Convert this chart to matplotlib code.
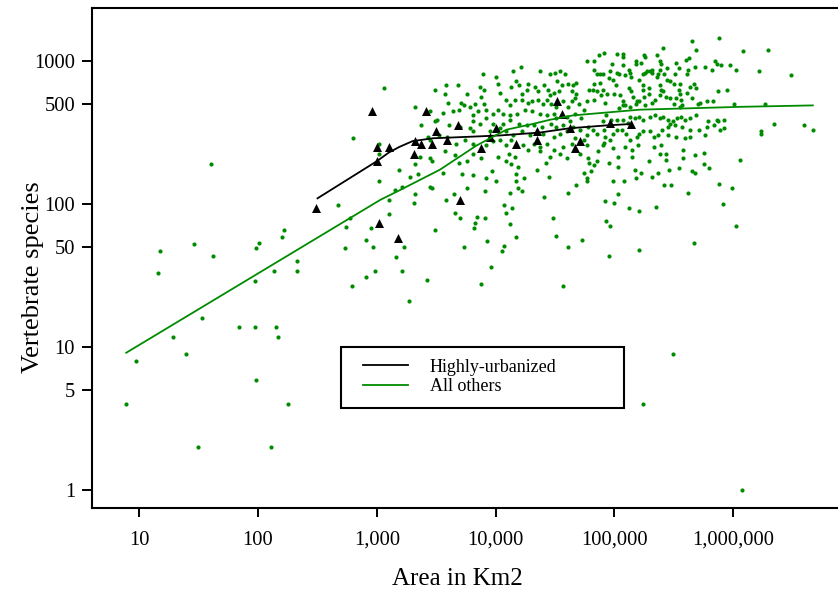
import numpy as np
import matplotlib
matplotlib.use('Agg')
import matplotlib.pyplot as plt
from matplotlib.lines import Line2D
from matplotlib.patches import Rectangle
from matplotlib.ticker import NullLocator

# values, stored as log10(area km2) / log10(species)
others_log_area = [
    1.60, 1.17, 1.16, 1.46, 1.62, 1.53, 1.28, 1.39, 0.97, 0.89,
    1.49, 2.11, 1.98, 2.25, 1.84, 1.97, 2.15, 2.17, 1.97, 2.13,
    2.33, 2.33, 1.98, 2.01, 2.20, 2.22, 2.67, 2.77, 2.74, 2.73,
    2.91, 2.95, 2.97, 2.79, 2.91, 2.98, 3.02, 3.02,
    3.06, 3.49, 2.80, 3.32, 3.45, 3.37, 3.49, 3.51, 3.43, 3.45,
    3.52, 3.02, 3.46, 3.45, 3.36, 3.32, 3.19, 3.28, 3.35, 3.21,
    3.15, 3.32, 3.45, 3.10,
    3.10, 3.31, 3.23, 3.16, 3.21, 3.27, 3.42, 3.88, 4.57, 4.93,
    4.96, 4.95, 4.92, 5.00, 5.12, 5.21, 5.35, 5.21, 5.67, 5.91,
    6.02, 5.49, 5.24, 6.07,
    3.56, 3.72, 3.81, 3.69, 3.76, 3.97, 3.92, 4.00, 3.46, 3.76,
    3.65, 3.58, 3.91, 4.09, 4.13, 4.19, 4.17, 4.24, 4.17, 4.19,
    4.22, 4.12, 4.07, 4.14, 4.09, 3.66, 3.70, 3.84, 3.83, 3.91,
    3.82, 3.49, 4.12, 4.17, 3.93, 4.07, 4.05, 3.73, 3.96, 4.35,
    4.42, 4.45, 4.41, 4.48, 4.51, 4.61, 4.73, 4.61, 4.68, 4.74,
    4.77, 4.77, 4.79,
    3.89, 4.00, 4.15, 4.21, 4.37, 4.46, 4.50, 4.54, 4.58, 3.58,
    3.68, 3.76, 3.87, 3.90, 3.88, 3.83, 3.71, 3.73, 3.78, 3.90,
    4.02, 4.04, 4.13, 4.17, 4.20, 4.27, 4.26, 4.22, 4.33, 4.36,
    4.41, 4.44, 4.46, 4.49, 4.53, 4.52, 4.56, 4.61, 4.65, 4.68,
    4.64, 4.68, 4.77, 4.79, 4.77, 4.74, 4.09, 4.12, 4.16, 4.22,
    4.27, 4.31, 4.36, 4.40, 4.43, 4.47, 4.51, 4.57, 4.61, 4.64,
    4.67, 4.70, 3.57, 3.60, 3.56, 3.64, 3.69, 3.81, 3.85, 3.92,
    3.98, 4.02, 4.06, 4.12, 4.18, 4.25, 4.31, 4.37, 4.43, 4.49,
    4.51, 4.60, 4.67, 4.72, 4.78, 3.81, 3.87, 3.92, 3.98, 4.06,
    4.12, 4.20, 4.26, 4.32, 4.39, 4.47, 4.51, 4.57, 4.63, 4.65,
    4.71, 4.77, 3.61, 3.70, 3.78, 3.81, 3.95, 4.04, 4.09, 4.15,
    4.22, 4.29, 4.40, 4.49, 4.54, 4.60, 4.67, 4.74, 3.59, 3.67,
    3.74, 3.81, 3.92, 3.98, 4.04, 4.09, 4.13, 4.23, 4.32, 4.37,
    4.43, 4.49, 4.57, 4.64, 4.77, 3.57, 3.66, 3.81, 3.88, 4.02,
    4.11, 4.16, 4.27, 4.37, 4.46, 4.54, 4.60, 4.71, 4.78,
    5.88, 5.65, 5.41, 5.69, 6.08, 4.91, 4.87, 5.02, 5.07, 5.07,
    5.25, 5.26, 5.36, 5.63, 4.83, 4.83, 4.98, 5.07, 5.18, 5.18,
    5.22, 5.38, 5.39, 5.52, 5.60, 5.85, 5.86, 5.90, 5.97, 6.02,
    5.82, 5.76, 5.68, 5.61, 5.62, 5.54, 5.51, 5.44, 5.42, 5.38,
    5.37, 5.36, 5.30, 5.32, 5.32, 5.26, 5.27, 5.24, 5.13, 5.14,
    5.09, 5.12, 5.02, 5.04, 4.96, 4.95, 4.90, 4.88, 4.85, 4.88,
    4.83, 4.82, 4.85, 4.90, 4.94, 4.89, 4.92, 4.83, 4.99, 5.01,
    5.00, 5.05, 5.07, 5.07, 5.04, 5.12, 5.14, 5.16, 5.19, 5.18,
    5.09, 5.13, 5.21, 5.24, 5.24, 5.29, 5.29, 5.25, 5.21, 5.26,
    5.32, 5.34, 5.38, 5.39, 5.41, 5.43, 5.47, 5.44, 5.47, 5.38,
    5.50, 5.55, 5.54, 5.55, 5.52, 5.56, 5.57, 5.55, 5.50, 5.61,
    5.64, 5.67, 5.69, 5.65, 5.70, 5.72, 5.78, 5.83, 5.87, 5.95,
    6.01,
    4.90, 4.93, 4.97, 5.02, 5.07, 5.11, 5.13, 5.17, 5.21, 5.24,
    5.30, 5.34, 5.38, 5.41, 5.45, 5.47, 5.49, 5.53, 5.56, 5.59,
    5.64, 5.69, 5.79, 5.86, 5.87, 5.92, 5.84, 5.78, 5.89, 5.92,
    5.76, 5.64, 5.57, 5.51, 5.45, 5.40, 5.37, 5.33, 5.30, 5.24,
    5.21, 5.19, 5.13, 5.10, 5.06, 5.02, 4.99, 4.96, 4.92, 4.91,
    4.85, 4.82, 5.64, 5.71, 5.59, 5.52, 5.45,
    5.03, 4.99, 5.08, 5.18, 5.22, 5.17, 5.32, 5.37, 5.42, 5.48,
    5.46, 5.54, 5.62, 5.65, 5.68, 5.75, 5.80, 5.88, 5.99, 6.06,
    5.03, 4.95, 4.99, 5.03, 4.91, 4.83, 4.85, 4.80, 4.86, 4.90,
    5.15, 5.15, 5.09, 5.20, 5.29, 5.33, 5.39, 5.38, 5.43, 5.43,
    5.58, 5.58, 5.68, 5.75,
    6.29, 6.49, 6.22, 6.27, 6.34, 6.23, 6.23, 6.60, 6.67,
]
others_log_species = [
    2.28, 1.67, 1.52, 1.72, 1.64, 1.20, 1.07, 0.95, 0.90, 0.60,
    0.30, 0.30, 0.77, 0.60, 1.14, 1.14, 1.14, 1.07, 1.46, 1.53,
    1.53, 1.60, 1.69, 1.73, 1.77, 1.82, 1.99, 1.90, 1.84, 1.69,
    1.75, 1.83, 1.70, 1.43, 1.49, 1.53, 2.16, 2.35,
    2.81, 2.80, 2.46, 2.68, 2.65, 2.55, 2.58, 2.59, 2.47, 2.45,
    2.48, 2.42, 2.30, 2.32, 2.33, 2.28, 2.24, 2.19, 2.21, 2.12,
    2.10, 2.07, 2.12, 2.03,
    1.93, 2.01, 1.70, 1.63, 1.53, 1.32, 1.47, 1.44, 1.43, 1.88,
    1.85, 1.64, 2.02, 2.01, 1.97, 1.95, 1.98, 1.68, 1.73, 2.00,
    1.85, 0.95, 0.60, 0.00,
    2.22, 2.21, 2.20, 2.29, 2.30, 2.23, 2.18, 2.16, 2.11, 2.11,
    2.07, 2.03, 2.09, 2.30, 2.28, 2.26, 2.21, 2.18, 2.16, 2.11,
    2.09, 2.08, 1.99, 1.97, 1.94, 1.94, 1.90, 1.91, 1.87, 1.90,
    1.83, 1.82, 1.86, 1.77, 1.74, 1.71, 1.67, 1.70, 1.56, 2.24,
    2.29, 2.19, 2.05, 1.90, 1.78, 1.70, 1.75, 2.08, 2.13, 2.22,
    2.18, 2.16, 2.29,
    2.91, 2.89, 2.93, 2.96, 2.93, 2.91, 2.92, 2.93, 2.91, 2.83,
    2.83, 2.77, 2.82, 2.80, 2.75, 2.70, 2.71, 2.69, 2.68, 2.70,
    2.84, 2.78, 2.82, 2.86, 2.83, 2.84, 2.80, 2.77, 2.82, 2.79,
    2.83, 2.80, 2.76, 2.78, 2.79, 2.86, 2.83, 2.84, 2.83, 2.85,
    2.79, 2.77, 3.00, 2.80, 2.72, 2.66, 2.73, 2.69, 2.73, 2.73,
    2.71, 2.72, 2.73, 2.70, 2.73, 2.70, 2.68, 2.72, 2.68, 2.72,
    2.74, 2.70, 2.77, 2.71, 2.64, 2.65, 2.66, 2.62, 2.65, 2.66,
    2.63, 2.66, 2.63, 2.62, 2.63, 2.66, 2.65, 2.63, 2.62, 2.63,
    2.60, 2.61, 2.63, 2.60, 2.54, 2.58, 2.56, 2.60, 2.56, 2.56,
    2.59, 2.56, 2.55, 2.55, 2.54, 2.56, 2.54, 2.55, 2.58, 2.54,
    2.52, 2.48, 2.55, 2.54, 2.53, 2.51, 2.51, 2.53, 2.51, 2.48,
    2.51, 2.48, 2.49, 2.47, 2.49, 2.51, 2.46, 2.45, 2.47, 2.42,
    2.45, 2.42, 2.41, 2.44, 2.45, 2.41, 2.45, 2.41, 2.42, 2.40,
    2.42, 2.38, 2.40, 2.42, 2.41, 2.37, 2.34, 2.35, 2.32, 2.33,
    2.35, 2.33, 2.38, 2.37, 2.33, 2.35, 2.32, 2.35, 2.32,
    3.16, 3.14, 3.09, 3.08, 3.07, 3.06, 3.04, 3.05, 3.05, 3.03,
    3.04, 3.03, 3.04, 3.02, 3.00, 2.94, 2.98, 2.97, 3.00, 2.98,
    2.99, 3.00, 2.98, 2.99, 3.01, 3.00, 2.98, 2.97, 2.97, 2.94,
    2.94, 2.96, 2.96, 2.91, 2.94, 2.95, 2.91, 2.95, 2.91, 2.94,
    2.91, 2.89, 2.93, 2.92, 2.94, 2.92, 2.93, 2.91, 2.92, 2.89,
    2.90, 2.94, 2.92, 2.91, 2.93, 2.88, 2.91, 2.91, 2.91, 2.85,
    2.84, 2.80, 2.79, 2.80, 2.77, 2.76, 2.71, 2.73, 2.87, 2.83,
    2.77, 2.76, 2.72, 2.69, 2.67, 2.81, 2.79, 2.75, 2.72, 2.70,
    2.69, 2.68, 2.87, 2.83, 2.80, 2.81, 2.77, 2.75, 2.72, 2.69,
    2.71, 2.73, 2.76, 2.80, 2.79, 2.75, 2.74, 2.87, 2.86, 2.83,
    2.84, 2.84, 2.80, 2.77, 2.74, 2.73, 2.69, 2.68, 2.70, 2.78,
    2.82, 2.84, 2.81, 2.74, 2.70, 2.71, 2.72, 2.72, 2.79, 2.80,
    2.70,
    2.58, 2.62, 2.59, 2.59, 2.59, 2.57, 2.61, 2.60, 2.61, 2.59,
    2.61, 2.62, 2.60, 2.61, 2.59, 2.56, 2.58, 2.60, 2.61, 2.59,
    2.60, 2.62, 2.58, 2.59, 2.58, 2.59, 2.55, 2.54, 2.52, 2.53,
    2.48, 2.52, 2.54, 2.55, 2.54, 2.52, 2.48, 2.47, 2.51, 2.51,
    2.49, 2.47, 2.45, 2.49, 2.52, 2.52, 2.49, 2.45, 2.47, 2.52,
    2.49, 2.52, 2.47, 2.52, 2.46, 2.47, 2.48,
    2.07, 2.16, 2.16, 2.18, 2.22, 2.24, 2.19, 2.22, 2.13, 2.13,
    2.24, 2.25, 2.08, 2.23, 2.22, 2.28, 2.25, 2.14, 2.11, 2.31,
    2.26, 2.29, 2.39, 2.33, 2.43, 2.27, 2.30, 2.23, 2.37, 2.41,
    2.38, 2.33, 2.40, 2.41, 2.30, 2.40, 2.41, 2.35, 2.35, 2.31,
    2.38, 2.32, 2.34, 2.36,
    3.08, 2.90, 2.93, 2.70, 2.56, 2.51, 2.49, 2.55, 2.52,
]

urban_log_area = [2.49, 2.96, 3.00, 3.10, 3.00, 3.02, 3.18, 3.31, 3.32, 3.37,
                  3.41, 3.46, 3.50, 3.59, 3.68, 3.70, 3.88, 3.95, 4.00, 4.17,
                  4.35, 4.35, 4.52, 4.56, 4.63, 4.67, 4.71, 4.96, 5.14]
urban_log_species = [1.97, 2.65, 2.40, 2.40, 2.30, 1.87, 1.76, 2.35, 2.44, 2.42,
                     2.65, 2.42, 2.51, 2.45, 2.55, 2.03, 2.39, 2.47, 2.53, 2.42,
                     2.51, 2.45, 2.72, 2.63, 2.53, 2.39, 2.44, 2.57, 2.56]

# fitted curves
urban_fit_log_area = [2.50, 2.75, 3.00, 3.10, 3.19, 3.30, 3.47, 3.76, 4.04, 4.37, 4.62, 4.93, 5.14]
urban_fit_log_species = [2.04, 2.17, 2.30, 2.36, 2.40, 2.44, 2.46, 2.47, 2.48, 2.50, 2.53, 2.55, 2.56]
others_fit_log_area = [0.89, 1.53, 2.33, 2.61, 3.03, 3.20, 3.53, 3.84, 4.09, 4.31, 4.46, 4.65, 4.93, 5.21, 5.64, 6.06, 6.67]
others_fit_log_species = [0.96, 1.28, 1.68, 1.82, 2.03, 2.10, 2.24, 2.41, 2.52, 2.56, 2.59, 2.62, 2.64, 2.66, 2.67, 2.68, 2.69]

x_ticks = [10, 100, 1000, 10000, 100000, 1000000]
x_tick_labels = ['10', '100', '1,000', '10,000', '100,000', '1,000,000']
y_ticks = [1, 5, 10, 50, 100, 500, 1000]
y_tick_labels = ['1', '5', '10', '50', '100', '500', '1000']
legend_labels = ['Highly-urbanized', 'All others']

GREEN = '#008b00'

plt.rcParams['font.family'] = ['Liberation Serif', 'DejaVu Serif']

fig = plt.figure(figsize=(8.38, 5.91), dpi=100)
ax = fig.add_axes([0.1094, 0.1404, 0.9025, 0.846])

ax.scatter(10 ** np.array(others_log_area), 10 ** np.array(others_log_species),
           s=9, c=GREEN, linewidths=0, zorder=2)
ax.scatter(10 ** np.array(urban_log_area), 10 ** np.array(urban_log_species),
           s=42, c='black', marker='^', linewidths=0, zorder=3)
ax.plot(10 ** np.array(urban_fit_log_area), 10 ** np.array(urban_fit_log_species),
        color='black', lw=1.3, zorder=4)
ax.plot(10 ** np.array(others_fit_log_area), 10 ** np.array(others_fit_log_species),
        color=GREEN, lw=1.3, zorder=4)

ax.set_xscale('log')
ax.set_yscale('log')
ax.set_xlim(10 ** 0.599, 10 ** 6.966)
ax.set_ylim(10 ** -0.126, 10 ** 3.371)
ax.set_xticks(x_ticks)
ax.set_xticklabels(x_tick_labels)
ax.set_yticks(y_ticks)
ax.set_yticklabels(y_tick_labels)
ax.xaxis.set_minor_locator(NullLocator())
ax.yaxis.set_minor_locator(NullLocator())

for sp in ax.spines.values():
    sp.set_linewidth(1.5)
ax.tick_params(axis='x', direction='out', length=6.5, width=1.4, labelsize=14.8, pad=10)
ax.tick_params(axis='y', direction='out', length=7, width=1.4, labelsize=14.8, pad=5)

ax.set_xlabel('Area in Km2', fontsize=18)
ax.set_ylabel('Vertebrate species', fontsize=19)
ax.xaxis.set_label_coords(0.4837, -0.12)
ax.yaxis.set_label_coords(-0.063, 0.462)

# legend: box drawn separately
handles = [Line2D([], [], color='black', lw=1.3), Line2D([], [], color=GREEN, lw=1.3)]
ax.legend(handles, legend_labels, loc='upper left', bbox_to_anchor=(0.3587, 0.299),
          frameon=False, fontsize=13, borderpad=0, borderaxespad=0,
          handlelength=2.5, handletextpad=1.2, labelspacing=0.16)
ax.add_patch(Rectangle((0.3296, 0.2), 0.3742, 0.122, transform=ax.transAxes,
                       fill=False, edgecolor='black', lw=1.5, zorder=5))

fig.savefig('out.png', dpi=100)
